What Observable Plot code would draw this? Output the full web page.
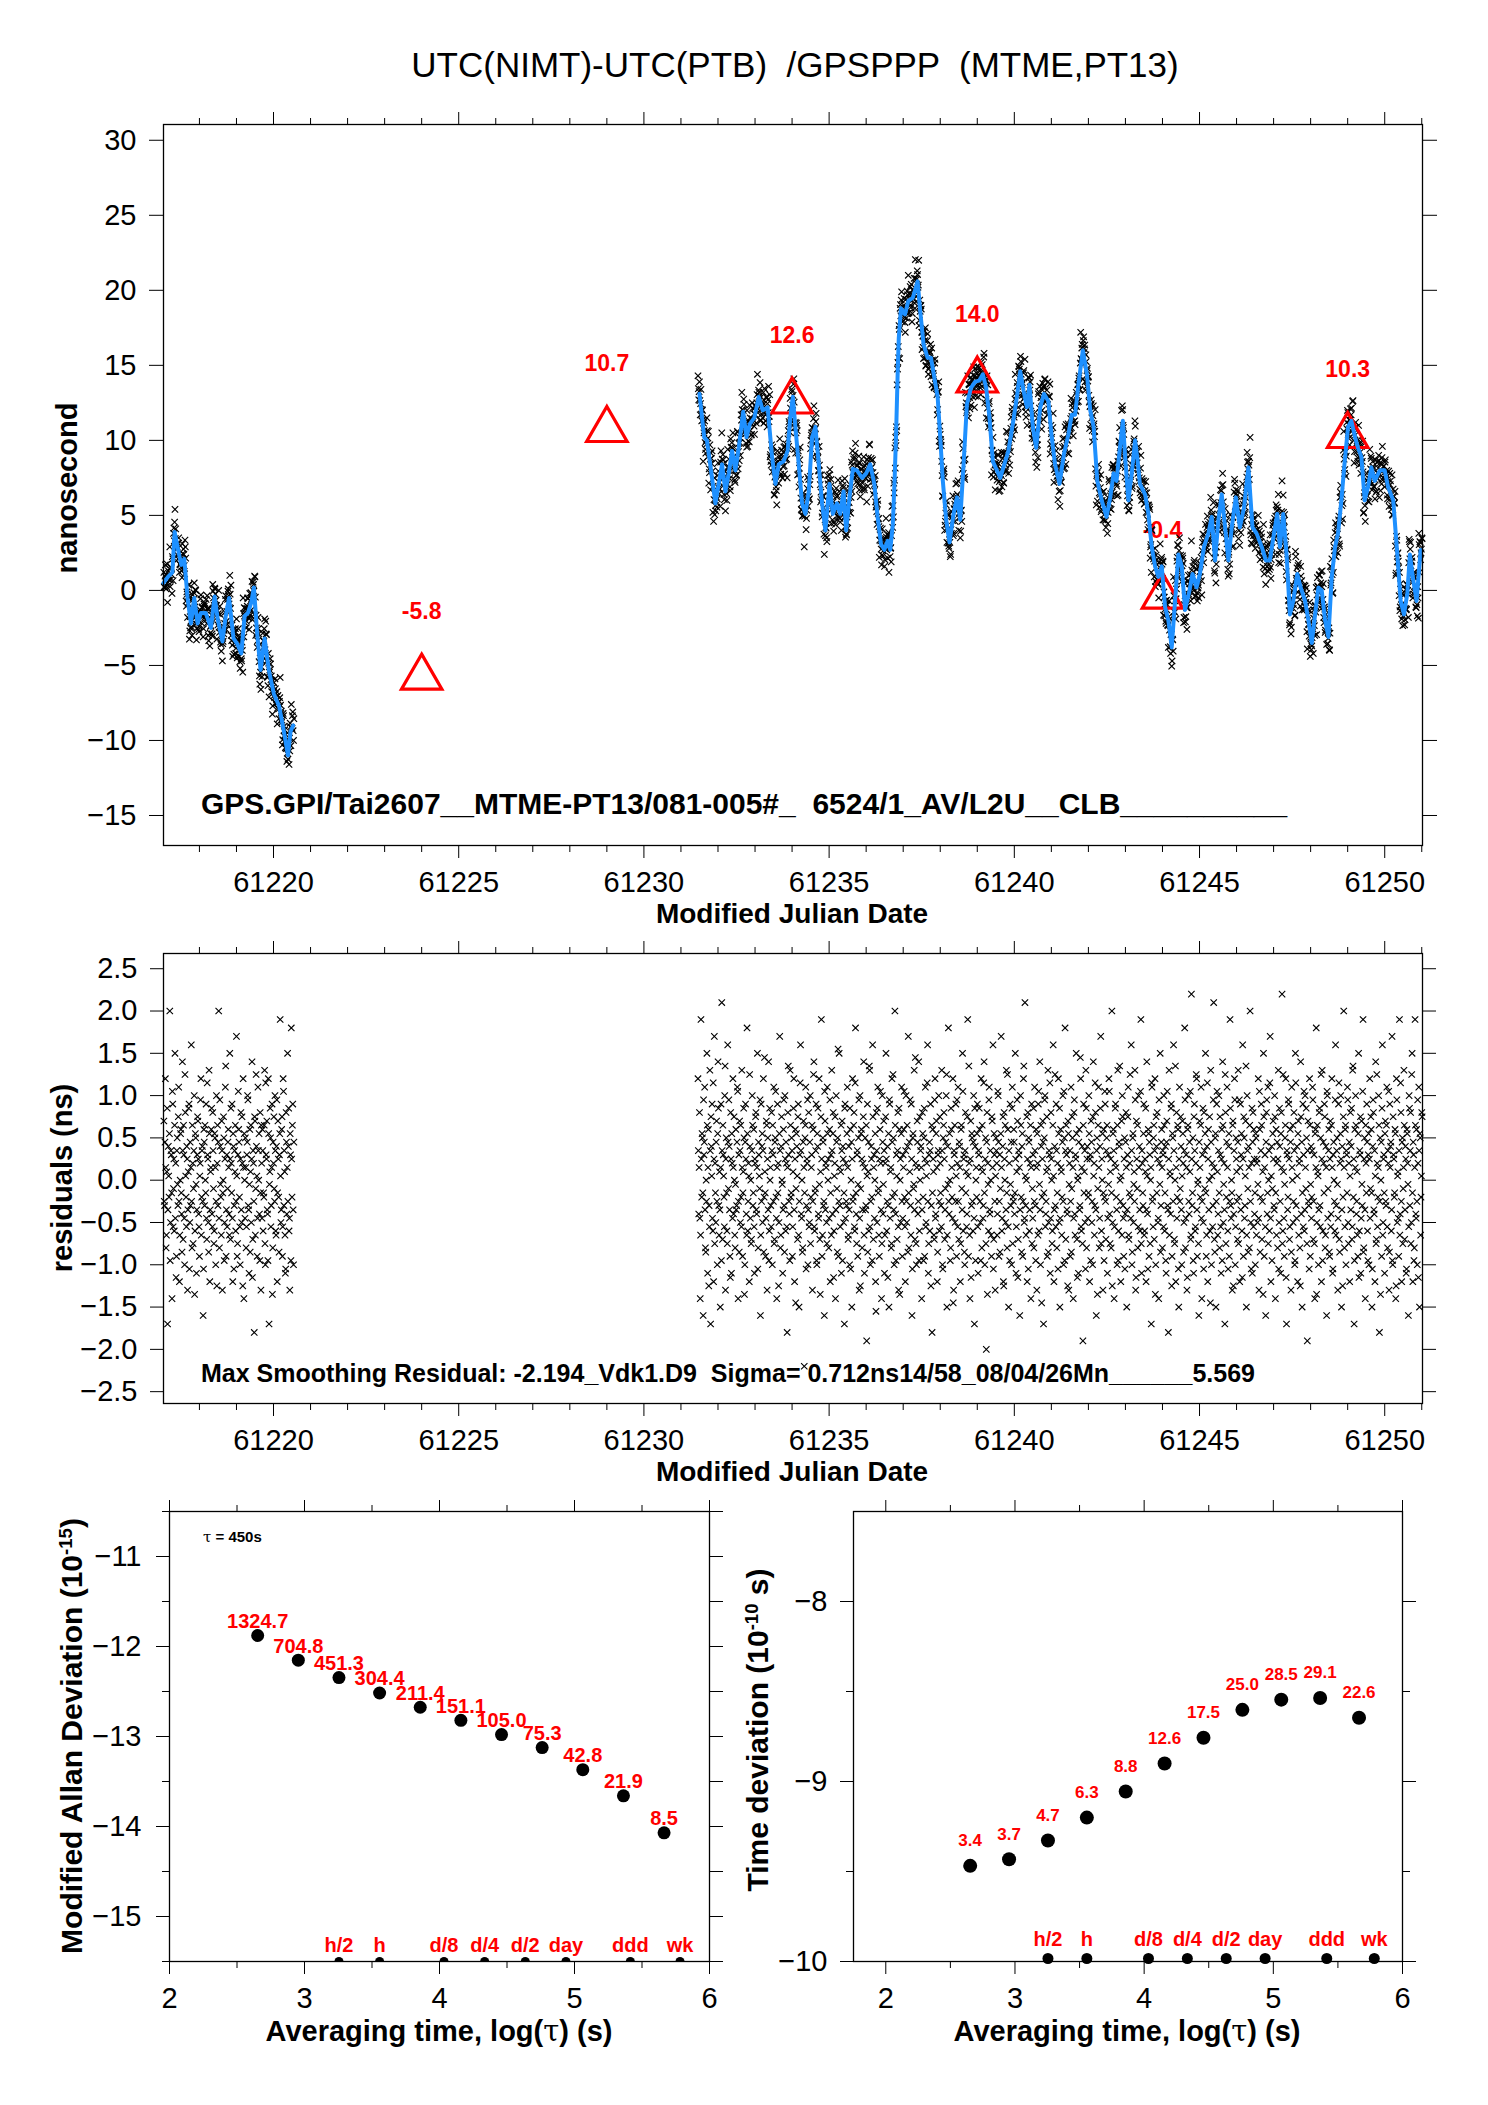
<!DOCTYPE html>
<html>
<head>
<meta charset="utf-8">
<script src="https://cdn.jsdelivr.net/npm/d3@7"></script>
<script src="https://cdn.jsdelivr.net/npm/@observablehq/plot@0.6"></script>
<style>
  body { margin: 0; background: #fff; }
  #page { position: relative; width: 1488px; height: 2105px; background: #fff; overflow: hidden;
          font-family: "Liberation Sans", Arial, Helvetica, sans-serif; color: #000; }
  #page svg { position: absolute; }
  .txt { position: absolute; white-space: pre; line-height: 1; z-index: 5; }
  .b { font-weight: bold; }
  sup { font-size: 62%; vertical-align: 0; position: relative; top: -0.55em; }
  .tau { font-family: "DejaVu Serif", "Liberation Serif", serif; font-weight: normal; }
</style>
</head>
<body>
<div id="page"></div>
<script>
// ---------------- DATA ----------------
const titleText = "UTC(NIMT)-UTC(PTB)  /GPSPPP  (MTME,PT13)";
const infoText1 = "GPS.GPI/Tai2607__MTME-PT13/081-005#_  6524/1_AV/L2U__CLB__________";
const infoText2 = "Max Smoothing Residual: -2.194_Vdk1.D9  Sigma= 0.712ns14/58_08/04/26Mn______5.569";

// smoothed curve (blue), MJD and ns
const smoothMjd = [
  61217.03,61217.15,61217.27,61217.33,61217.45,61217.51,61217.59,61217.68,61217.77,61217.86,61217.95,61218.04,
  61218.17,61218.31,61218.41,61218.50,61218.62,61218.71,61218.80,61218.92,61219.03,61219.13,61219.22,61219.31,
  61219.40,61219.47,61219.56,61219.65,61219.76,61219.88,61220.01,61220.15,61220.28,61220.39,61220.46,61220.53,
  61231.50,61231.57,61231.63,61231.70,61231.79,61231.93,61232.02,61232.11,61232.20,61232.29,61232.38,61232.47,
  61232.56,61232.68,61232.77,61232.86,61232.98,61233.10,61233.21,61233.34,61233.46,61233.55,61233.64,61233.77,
  61233.88,61233.95,61234.02,61234.10,61234.18,61234.27,61234.36,61234.45,61234.54,61234.63,61234.72,61234.81,
  61234.90,61235.01,61235.10,61235.21,61235.30,61235.39,61235.46,61235.55,61235.64,61235.75,61235.89,61236.00,
  61236.11,61236.22,61236.31,61236.40,61236.49,61236.58,61236.65,61236.72,61236.77,61236.81,61236.85,61236.88,
  61236.94,61237.05,61237.14,61237.26,61237.39,61237.46,61237.55,61237.66,61237.75,61237.84,61237.93,61238.00,
  61238.07,61238.16,61238.25,61238.36,61238.45,61238.54,61238.63,61238.72,61238.83,61238.94,61239.06,61239.15,
  61239.24,61239.33,61239.42,61239.53,61239.62,61239.73,61239.84,61239.96,61240.07,61240.16,61240.25,61240.34,
  61240.41,61240.50,61240.59,61240.70,61240.80,61240.92,61241.01,61241.10,61241.22,61241.34,61241.46,61241.55,
  61241.64,61241.73,61241.85,61241.96,61242.05,61242.14,61242.24,61242.36,61242.49,61242.59,61242.68,61242.76,
  61242.85,61242.93,61243.00,61243.08,61243.17,61243.26,61243.33,61243.39,61243.53,61243.62,61243.71,61243.80,
  61243.89,61243.98,61244.07,61244.16,61244.25,61244.34,61244.43,61244.52,61244.61,61244.73,61244.81,61244.92,
  61245.01,61245.12,61245.24,61245.33,61245.42,61245.51,61245.60,61245.69,61245.78,61245.87,61245.98,61246.09,
  61246.20,61246.32,61246.43,61246.54,61246.68,61246.79,61246.90,61247.01,61247.10,61247.17,61247.26,61247.35,
  61247.44,61247.53,61247.64,61247.73,61247.85,61247.94,61248.03,61248.12,61248.21,61248.30,61248.39,61248.48,
  61248.57,61248.66,61248.74,61248.83,61248.92,61249.01,61249.10,61249.20,61249.28,61249.37,61249.46,61249.55,
  61249.64,61249.73,61249.87,61250.00,61250.09,61250.23,61250.34,61250.43,61250.52,61250.61,61250.68,61250.77,
  61250.86,61250.97
];
const smoothNs = [
  0.5,0.9,1.2,3.9,2.4,1.7,2.1,-0.5,-2.2,-0.5,-2.2,-1.5,
  -1.5,-2.5,-0.4,-2.0,-3.4,-1.7,-0.5,-3.2,-3.6,-4.2,-1.7,-1.5,
  -0.8,0.2,-2.9,-5.3,-3.2,-5.4,-6.9,-7.7,-9.4,-11.0,-9.4,-9.0,
  13.1,11.5,10.2,10.0,8.4,5.8,7.1,8.4,6.6,7.8,9.3,8.0,
  9.5,11.9,10.2,11.1,11.5,12.9,12.0,12.2,8.9,7.1,8.4,8.6,
  9.3,11.5,12.9,10.6,8.4,5.8,5.1,6.6,10.2,10.9,8.4,5.8,
  4.0,7.1,5.1,5.8,5.1,6.6,4.0,6.2,8.1,8.0,7.5,7.8,
  8.4,7.1,4.9,3.1,2.7,3.3,2.7,4.4,7.5,10.6,14.4,16.8,
  18.8,18.4,19.3,19.5,20.6,18.6,16.4,15.5,15.5,14.2,12.9,10.2,
  7.3,4.7,3.2,5.1,6.2,4.7,8.4,12.4,13.5,13.9,14.0,14.4,
  13.5,11.5,8.6,8.0,7.5,8.4,9.3,11.1,12.9,14.6,13.3,12.2,
  13.7,10.9,9.5,12.2,13.1,12.6,10.2,8.4,7.1,9.1,10.4,11.7,
  11.7,13.7,16.0,14.4,12.0,10.9,7.3,6.0,4.9,6.2,7.8,7.3,
  9.5,11.3,8.6,6.0,7.8,10.0,8.6,7.1,6.4,5.1,2.9,1.6,
  0.9,1.6,-1.1,-2.0,-3.8,-0.7,2.4,1.6,-1.3,0.0,1.1,0.2,
  1.1,2.9,3.8,4.9,2.0,4.7,6.4,4.2,2.0,4.2,6.2,4.2,
  5.5,8.2,4.2,3.8,2.9,2.0,2.0,3.8,5.1,2.9,5.1,2.4,
  -1.6,-0.7,1.1,0.2,-0.7,-2.0,-3.5,-1.6,0.2,0.0,-2.0,-3.1,
  0.9,2.9,3.8,6.0,8.6,10.9,11.3,10.2,9.5,8.9,6.0,6.9,
  8.2,7.3,8.0,8.0,6.9,6.0,2.4,-0.7,-1.6,-0.2,2.4,0.7,
  -0.7,2.7
];

// Circular T values (red triangles)
const circTMjd = [61224, 61229, 61234, 61239, 61244, 61249];
const circTNs  = [-5.8, 10.7, 12.6, 14.0, -0.4, 10.3];

// smoothing residuals (ns): two interleaved sample sets, evenly spaced over each data span
const spanLeft   = [61217.04, 61220.54];
const spanRight  = [61231.46, 61251.00];
const spanLeft2  = [61217.05, 61220.55];
const spanRight2 = [61231.47, 61251.01];
const residLeft = [
  0.7,-0.3,1.2,-0.8,0.1,-1.7,0.4,-0.2,2.0,-0.5,0.3,-1.4,0.9,-0.1,-0.6,1.5,0.2,-0.9,0.5,-0.3,1.1,-1.2,
  0.0,0.6,-0.4,1.4,-0.7,0.3,-1.0,0.8,-0.2,0.4,-1.3,0.1,0.9,-0.5,-0.3,1.6,-0.8,0.2,-0.1,1.0,-0.6,0.5,
  -1.1,0.3,0.7,-0.4,-0.9,0.2,1.2,-0.2,0.4,-1.6,0.6,-0.3,0.0,0.9,-0.7,0.3,-0.5,1.3,-1.2,0.1,0.6,-0.4,
  0.8,-0.1,-0.6,0.5,-1.0,1.0,0.2,-0.3,2.0,-0.8,0.4,-0.2,0.7,-1.3,0.0,0.5,-0.5,1.1,-0.9,0.3,-0.1,0.6,
  -0.4,1.5,-0.7,0.2,0.9,-1.2,0.4,-0.3,0.1,-0.6,1.7,-0.9,0.3,0.6,-0.2,-1.0,0.8,-0.5,0.2,1.2,-1.4,0.0,
  0.5,-0.8,0.3,1.0,-0.3,-1.1,0.6,0.1,-0.5,1.4,-0.7,0.2,-1.8,0.7,-0.1,0.4,-0.9,1.1,0.0,-0.4,0.8,-1.3,
  0.2,0.6,-0.6,-0.2,1.3,-1.0,0.3,0.7,-0.4,1.2,-1.7,0.1,0.5,-0.3,0.9,-0.8,0.2,-0.1,1.0,-0.6,0.4,-1.2,
  0.7,-0.2,0.3,1.9,-0.5,0.6,-0.9,1.2,-0.3,0.1,-1.1,0.8,-0.4,1.5,0.4,-0.6,-1.3,0.3,1.8,-0.2,0.9,-1.0
];
const residLeft2 = [
  -0.25,0.45,0.15,-0.65,0.85,-0.35,0.05,0.55,-0.95,0.35,-0.15,1.05,-0.55,0.25,0.65,-0.45,-1.15,0.35,-0.05,0.75,-0.25,-0.65,
  0.55,-0.15,-0.85,0.35,0.65,-0.45,1.25,0.05,-0.55,0.25,-0.35,0.85,-1.05,0.45,0.15,-0.25,0.65,-0.75,0.35,-1.35,0.55,-0.05,
  -0.35,0.75,0.25,-0.55,0.05,0.95,-0.65,0.35,-0.25,-1.05,0.45,0.65,-0.15,-0.45,1.15,0.25,-0.85,0.55,-0.35,0.15,0.85,-0.55,
  0.35,-0.75,0.55,0.15,-0.25,-1.25,0.65,0.45,-0.45,0.95,-0.05,-0.65,0.35,-0.15,0.75,-0.95,0.25,1.35,-0.35,-0.55,0.45,0.15,
  -0.65,0.25,0.85,-0.15,-0.45,0.55,-1.05,0.35,0.65,-0.25,0.05,-0.75,1.05,0.45,-0.55,0.25,-0.35,0.75,-1.25,0.15,0.55,-0.45,
  0.15,-0.55,0.45,0.95,-0.35,-0.05,-0.85,0.65,0.25,-1.15,0.35,-0.25,0.75,-0.65,1.25,0.05,-0.45,0.35,0.55,-0.95,-0.15,0.65,
  -0.45,0.35,-0.15,0.65,-0.75,1.15,0.25,-0.35,-0.95,0.55,-0.05,0.85,-0.55,0.15,-1.35,0.45,0.75,-0.25,0.35,-0.65,0.95,-0.15,
  0.25,-0.85,0.55,0.05,-0.35,0.75,-0.55,1.05,0.35,-0.65,-1.05,0.45,0.15,-0.25,0.85,-0.45,0.55,-0.95,0.25,0.65,-0.35,0.45
];
const residRight = [
  1.2,-0.4,0.8,-1.4,1.9,-0.2,0.5,-1.6,0.3,1.1,-0.8,0.0,1.5,-1.1,0.6,-0.3,1.3,-1.7,0.4,0.9,-0.6,-1.2,1.7,0.2,-0.5,
  0.7,-1.0,1.4,-0.3,0.1,-1.5,0.9,2.1,-0.7,0.3,-0.2,1.0,-1.3,0.5,-0.6,1.6,-0.1,0.4,-0.9,0.8,-1.1,0.2,1.2,-0.4,0.0,
  -0.8,0.6,-0.3,1.1,-1.4,0.3,0.7,-0.5,-0.2,1.3,-0.9,0.1,0.5,-1.0,0.9,-0.4,1.8,-0.6,0.2,-1.2,0.4,0.0,-0.7,1.0,-0.3,
  0.6,-1.1,0.2,0.8,-0.4,1.5,-0.8,0.3,-0.1,-1.6,0.9,0.4,-0.5,1.2,-0.2,0.1,-0.9,0.7,-1.3,0.5,1.4,-0.6,0.0,-0.3,0.8,
  -1.0,0.3,1.1,-0.7,0.5,-0.2,-1.4,0.9,0.2,-0.5,1.7,-0.8,0.4,0.0,-1.1,0.6,-0.3,1.0,-0.6,0.2,-1.8,0.8,0.3,-0.4,1.3,
  -0.2,0.5,-0.9,0.1,1.2,-1.2,0.6,-0.1,0.4,-0.7,0.9,-1.5,0.3,1.6,-0.4,0.0,-0.8,0.7,-2.2,0.5,1.1,-0.3,0.2,-1.0,0.8,
  -0.5,1.0,-0.2,0.3,-1.3,0.6,1.4,-0.6,-0.1,0.9,-1.0,0.4,-0.4,1.2,-0.7,0.1,1.9,-0.9,0.5,-0.3,-1.6,0.7,0.2,-0.5,1.1,
  0.0,-0.8,0.6,-1.2,0.3,1.3,-0.4,0.8,-0.6,0.2,-1.4,1.0,-0.1,0.5,-0.9,1.5,-0.3,0.1,-1.1,0.7,0.4,-0.5,-1.7,0.9,0.2,
  -0.3,1.1,-0.7,0.4,-1.0,0.6,0.0,-1.5,1.2,-0.2,0.8,-0.6,1.8,-0.4,0.3,-0.9,0.5,-1.3,1.0,-0.1,0.6,-0.8,0.2,1.4,-1.1,
  0.5,-0.3,-1.9,0.9,0.1,-0.6,1.3,-1.0,0.4,-0.2,1.6,-0.7,0.3,0.0,-1.2,0.8,-0.5,1.1,-0.1,-0.9,0.6,0.2,-1.4,1.0,-0.4,
  0.7,-1.1,0.2,1.5,-0.6,0.4,-0.3,-1.5,0.9,0.1,-0.8,1.2,-0.2,0.5,-1.0,2.0,-0.4,0.3,-0.7,0.8,-1.3,0.6,0.0,-0.5,1.1,
  -0.9,0.3,0.6,-0.2,-1.2,1.0,-0.5,0.4,1.7,-0.8,0.1,-0.3,0.9,-1.6,0.5,-0.1,1.3,-0.7,0.2,-1.0,0.7,-0.4,1.4,-0.6,0.0,
  0.4,-1.4,0.8,-0.2,0.5,-0.9,1.1,-0.5,0.2,1.6,-1.1,0.3,-0.6,0.9,-0.3,-1.8,0.6,0.1,-0.7,1.2,-0.4,0.7,-1.2,0.3,1.0,
  -0.6,0.2,-0.3,1.3,-1.0,0.5,0.8,-0.7,-0.1,1.0,-1.5,0.4,1.8,-0.4,0.0,-0.8,0.6,-0.2,1.2,-1.3,0.3,-0.5,0.9,-0.9,0.2,
  1.1,-0.7,0.4,-1.2,0.6,-0.1,1.5,-0.6,0.3,-1.0,0.8,0.1,-0.4,1.9,-0.9,0.2,-1.4,0.7,-0.3,0.5,-0.6,1.0,-1.7,0.4,0.0,
  -0.2,0.9,-1.1,0.3,0.6,-0.5,1.2,-0.8,0.1,-0.3,1.4,-1.0,0.5,-2.0,0.8,0.2,-0.6,1.1,-0.4,0.0,-0.9,0.7,1.6,-0.7,0.3,
  -1.3,0.5,0.2,-0.4,1.0,-0.9,0.3,-0.1,1.7,-0.6,0.4,-1.2,0.8,0.0,-0.5,1.3,-0.8,0.6,-1.5,0.2,0.9,-0.3,-1.0,1.1,-0.2,
  0.6,-0.4,1.5,-1.1,0.1,0.7,-0.7,0.3,-1.6,1.0,-0.2,0.4,-0.9,1.2,-0.5,2.1,-0.3,0.0,-1.2,0.8,0.5,-0.6,0.2,-1.4,0.9,
  -0.1,0.3,-0.8,1.1,-0.3,0.6,-1.3,0.2,0.9,-0.6,1.4,-1.0,0.4,-0.2,0.7,-1.7,0.5,1.0,-0.4,0.1,-0.9,1.3,-0.5,0.3,-1.1,
  0.8,0.0,-0.6,1.6,-1.2,0.4,-0.3,0.9,-0.8,0.2,1.2,-0.5,-1.5,0.6,0.1,-0.2,1.0,-1.0,0.5,1.8,-0.7,0.3,-0.4,0.7,-1.3,
  0.2,-0.9,1.1,-0.1,0.5,-1.4,0.8,-0.4,0.3,1.5,-0.7,0.0,-1.1,0.6,-0.3,1.2,-0.6,0.4,-1.9,0.9,0.1,-0.5,1.3,-0.8,0.4,
  -0.2,1.0,-1.2,0.3,0.7,-0.5,-1.0,1.4,0.2,-0.3,0.8,-1.6,0.5,-0.1,1.1,-0.8,0.4,1.7,-0.6,0.0,-1.3,0.6,-0.2,0.9,-0.7,
  0.5,-1.1,0.3,1.2,-0.4,0.1,-0.8,2.0,-0.5,0.6,-1.4,0.2,0.9,-0.2,-1.0,1.3,-0.6,0.4,0.0,-1.2,0.7,1.0,-0.3,-0.9,0.5,
  -0.4,0.8,-1.5,0.3,1.1,-0.7,0.2,-0.2,1.6,-1.0,0.5,-0.5,0.1,1.3,-1.3,0.7,-0.1,-0.8,1.0,0.4,-0.6,1.9,-1.1,0.2,-0.3,
  0.9,-0.6,0.1,-1.2,1.4,-0.4,0.6,-0.9,0.3,0.0,-1.7,1.1,-0.2,0.5,-0.7,1.2,-1.0,0.4,0.8,-0.5,-1.4,0.2,1.5,-0.3,0.6,
  -0.8,0.3,1.0,-0.6,0.4,-1.1,0.7,-0.3,-1.8,1.3,0.1,-0.4,0.9,-0.9,0.5,1.6,-0.7,0.0,-1.2,0.8,-0.2,0.6,-1.5,1.1,-0.1,
  0.4,-1.0,0.7,0.2,-0.5,1.8,-0.8,0.3,-1.3,0.6,1.0,-0.4,0.1,-0.7,2.2,-0.3,0.5,-1.1,0.9,-0.6,0.2,1.2,-0.9,0.0,-1.6,
  0.7,-0.2,1.1,-1.4,0.3,-0.5,0.8,-0.1,1.5,-0.9,0.4,-1.2,0.6,0.0,-0.6,1.3,-1.0,0.2,-0.3,2.1,-0.7,0.5,-1.5,0.9,0.1,
  -0.4,1.0,-0.8,0.3,-1.1,0.6,1.4,-0.5,0.2,-1.7,0.8,-0.2,1.1,-0.6,0.4,-0.9,1.9,-0.3,0.0,-1.3,0.7,-0.4,1.2,-1.0,0.5,
  0.1,-0.7,1.3,-0.2,-1.2,0.9,0.3,-0.6,1.6,-0.9,0.5,-0.3,0.7,-1.5,1.0,-0.1,0.4,-0.8,2.0,-0.5,0.2,-1.1,0.8,0.6,-0.4,
  -1.0,0.5,0.2,-0.5,1.2,-1.3,0.6,-0.2,0.9,-0.7,0.1,1.5,-0.9,0.3,-1.6,0.8,-0.4,1.1,0.0,-0.6,1.7,-1.2,0.4,-0.1,0.7,
  -0.3,1.0,-1.4,0.6,0.2,-0.8,1.3,-0.5,0.4,-1.1,0.8,2.2,-0.6,0.1,-0.9,0.5,1.2,-1.7,0.3,-0.2,0.9,-0.7,0.6,-1.3,1.1,
  0.0,-0.5,0.8,-1.0,1.5,-0.3,0.4,-1.2,0.7,0.2,-0.8,1.4,-0.4,-1.5,0.9,0.3,-0.6,1.0,-0.1,0.5,-1.9,0.7,-0.3,1.2,-0.9,
  0.4,-0.2,1.1,-0.7,0.3,-1.4,0.6,1.8,-0.5,0.1,-1.0,0.8,-0.3,0.5,-1.2,1.3,-0.6,0.2,0.9,-0.8,0.4,-1.6,1.0,-0.1,0.6,
  -0.9,0.7,-0.4,1.2,-1.1,0.3,0.0,-0.6,1.6,-0.3,0.5,-1.3,0.9,-0.7,0.2,1.0,-1.5,0.4,-0.2,2.0,-0.8,0.6,-1.0,0.3,1.1,
  -0.5,0.2,-1.2,0.8,0.4,-0.7,1.3,-0.2,-1.7,0.6,1.0,-0.4,0.1,-0.9,1.5,-0.6,0.3,-1.1,0.7,-0.3,1.9,-0.8,0.5,-1.4,0.2,
  0.9,-0.6,0.3,-1.0,1.2,-0.1,0.6,-1.5,0.4,0.8,-0.4,-1.2,1.4,-0.7,0.2,-0.2,1.0,-1.8,0.5,0.0,-0.9,1.6,-0.5,0.3,-1.1,
  0.7,-0.3,1.1,-0.8,0.2,-1.3,0.9,0.4,-0.6,1.7,-1.0,0.3,-0.2,0.6,-1.4,1.2,-0.5,0.1,-0.9,1.9,-0.4,0.8,-1.2,0.5,-0.1,
  1.3,-0.7,0.4,-1.1,0.6,0.2,-1.6,1.0,-0.3,0.8,-0.5,1.5,-1.2,0.3,-0.8,1.9,-0.4,0.6,-1.0,0.2,1.1,-1.5,0.5,-0.2,0.8
];
const residRight2 = [
  0.35,0.15,-0.45,-0.65,0.25,0.55,-0.15,0.95,0.45,-0.35,-0.85,-0.25,0.65,0.15,-1.25,-0.55,0.35,0.75,0.05,-0.45,1.15,0.25,-0.75,-0.15,0.45,
  -0.25,0.55,0.85,-0.65,-0.35,0.15,-0.95,0.35,0.65,0.05,-0.55,1.35,0.25,-0.15,-0.75,0.45,0.95,-0.35,-1.15,0.25,0.55,-0.45,0.15,0.75,-0.65,
  -0.05,-0.35,0.45,1.05,-0.25,-0.85,0.35,0.65,-0.55,0.15,-0.15,0.85,-1.35,0.45,0.25,-0.65,0.55,-0.25,0.05,1.25,-0.45,-0.75,0.35,0.65,-0.15,
  -0.55,0.25,0.75,-0.35,0.15,-1.05,0.45,0.05,0.95,-0.65,-0.25,0.55,0.35,-0.85,1.45,-0.15,-0.45,0.65,0.25,-0.35,-0.95,0.85,0.15,-0.55,0.35,
  0.65,-0.25,-0.75,0.45,1.05,-0.45,0.15,-0.15,-1.25,0.55,0.35,-0.65,0.75,-0.05,-0.35,0.95,-0.85,0.25,0.45,-0.55,0.15,1.35,-0.25,-0.95,0.65,
  -0.15,0.35,-0.55,0.85,-0.35,0.25,-1.45,0.55,0.05,0.75,-0.65,-0.25,1.15,0.35,-0.45,-0.85,0.45,0.15,-0.15,0.65,-1.05,0.25,0.95,-0.35,-0.55,
  0.45,-0.75,0.15,0.65,-0.25,1.25,-0.55,-0.15,0.35,-0.95,0.55,0.85,-0.45,-0.05,-1.35,0.75,0.25,-0.65,0.45,-0.25,1.05,-0.35,0.15,-0.75,0.55,
  0.25,-0.45,0.95,-0.15,-0.65,0.35,0.55,-1.15,0.05,0.75,-0.35,0.45,-0.85,1.55,-0.25,0.15,-0.55,0.65,0.35,-0.95,0.25,-0.15,0.85,-0.45,-0.25,
  0.55,0.15,-0.65,-0.35,0.85,-1.05,0.45,0.25,-0.25,0.65,-0.55,1.15,-0.15,-0.75,0.35,-0.05,0.95,-0.45,-1.25,0.55,0.25,-0.35,0.75,-0.65,0.15,
  -0.35,0.65,0.05,-0.85,0.45,1.35,-0.55,-0.25,0.25,-0.95,0.75,0.15,-0.45,0.55,-1.55,0.35,0.85,-0.15,-0.65,0.25,1.05,-0.35,-0.75,0.45,-0.05,
  0.35,-0.65,0.75,0.25,-0.25,-1.15,0.55,0.95,-0.45,0.15,-0.75,0.45,1.25,-0.35,-0.15,0.65,-0.95,0.05,0.35,-0.55,0.85,-1.35,0.25,0.55,-0.25,
  -0.45,0.15,1.05,-0.55,0.35,-0.25,0.65,-0.85,-0.15,0.45,0.95,-0.65,0.25,-1.05,0.55,-0.05,-0.35,1.45,-0.75,0.15,0.45,-0.25,-0.95,0.75,0.35,
  0.15,-0.35,0.55,-0.95,0.85,0.25,-0.55,0.05,1.15,-0.25,-0.75,0.45,0.35,-1.25,0.65,-0.15,0.25,-0.65,0.95,-0.45,0.55,0.15,-0.85,0.35,-0.25,
  0.75,-0.15,-0.55,0.35,-1.05,0.65,0.25,-0.35,0.45,1.25,-0.65,-0.05,-0.25,0.55,-0.95,0.85,0.15,-0.45,-1.45,0.35,0.65,-0.25,0.05,0.95,-0.55,
  -0.25,0.45,0.15,-0.75,0.65,-0.35,1.05,0.25,-0.85,0.35,-0.15,-0.55,0.75,0.05,1.35,-0.65,0.25,-1.15,0.55,-0.25,0.45,-0.45,0.85,-0.95,0.15,
  0.55,-0.55,0.35,0.85,-0.25,-0.95,0.15,0.65,-0.45,1.15,-0.15,0.25,-0.75,0.45,-1.35,-0.05,0.95,-0.35,0.35,-0.65,0.75,0.15,-1.05,0.55,-0.25,
  0.05,0.35,-0.65,1.05,0.45,-0.25,-0.85,0.55,0.15,-0.45,0.75,-1.25,0.25,0.65,-0.35,-0.15,1.25,-0.55,0.35,-0.95,-0.05,0.45,0.85,-0.75,-0.25,
  0.45,-0.15,0.25,-0.55,0.95,-1.15,0.35,0.15,-0.35,0.65,-0.85,0.55,-0.25,1.35,-0.45,0.05,-0.65,0.75,0.25,-1.05,0.45,-0.35,0.65,0.15,-0.75,
  -0.45,0.85,-0.25,0.35,-0.95,0.15,0.55,-0.65,1.05,-0.05,-0.35,0.65,-1.45,0.25,0.45,-0.15,0.95,-0.55,-0.25,0.75,0.15,-0.85,0.35,1.15,-0.45,
  0.25,-0.75,0.65,0.05,-0.35,1.25,-0.55,0.35,-0.15,-1.05,0.55,0.85,-0.45,0.15,-0.65,0.45,-0.25,1.05,-0.95,0.35,0.65,-0.35,-1.25,0.55,-0.05,
  0.35,-0.25,-0.85,0.75,0.15,-0.45,0.95,-0.65,0.25,0.55,-1.15,0.05,0.45,-0.35,1.45,-0.55,0.15,-0.75,0.65,-0.15,0.35,-1.05,0.85,0.25,-0.45,
  -0.15,0.55,0.25,-0.95,0.45,-0.25,0.75,0.05,-0.65,1.15,-0.35,0.35,-1.35,0.65,0.15,-0.45,0.85,-0.75,0.25,0.55,-0.15,-0.95,1.05,-0.25,0.35,
  0.65,-0.45,-0.05,1.05,-0.75,0.25,-0.15,-1.25,0.55,0.35,-0.55,0.85,0.15,-0.35,0.65,-0.95,0.45,1.35,-0.25,0.05,-0.65,0.75,-0.45,0.25,-1.05,
  0.45,0.15,-0.35,0.75,-0.65,-0.15,1.25,-0.45,0.35,-0.85,0.55,-0.05,-0.25,0.95,-1.15,0.25,0.65,-0.55,0.15,-0.35,1.05,-0.75,0.35,-0.15,0.55,
  -0.65,0.25,0.85,-0.35,0.05,-1.05,0.55,0.45,-0.75,0.15,1.15,-0.25,-0.55,0.65,0.35,-1.35,0.75,-0.15,0.25,-0.45,0.95,-0.05,-0.85,0.45,0.15,
  0.35,-0.55,0.65,-0.15,-0.95,0.45,1.05,-0.35,0.25,-0.65,0.05,0.85,-1.25,0.55,-0.25,0.35,-0.75,1.35,0.15,-0.45,0.65,-1.05,0.25,-0.25,0.75,
  -0.35,0.05,0.55,-0.85,0.35,0.95,-0.45,0.15,-1.15,0.65,-0.25,0.45,1.05,-0.65,0.25,-0.15,-0.95,0.75,0.35,-0.55,1.25,-0.35,-0.05,-0.75,0.45,
  0.15,0.65,-0.45,-0.25,0.85,-1.05,0.35,0.55,-0.15,-0.65,1.15,0.25,-0.35,0.75,-1.45,0.45,0.05,-0.55,0.95,0.15,-0.85,0.55,-0.25,1.05,-0.65,
  0.35,-0.15,0.75,-0.55,0.25,-0.95,0.65,-0.05,-0.35,1.25,-0.75,0.45,0.15,-1.05,0.55,-0.25,0.85,-0.45,-0.15,0.65,-1.25,0.35,0.95,-0.55,0.25,
  -0.25,0.45,-0.75,0.95,0.15,-0.35,0.55,-1.15,0.25,0.75,-0.45,0.05,1.35,-0.65,0.35,-0.85,0.15,0.65,-0.25,-1.05,0.85,0.45,-0.55,0.25,-0.15,
  0.55,-0.65,0.25,-0.05,-0.45,1.05,-0.85,0.35,0.65,-0.25,-1.35,0.75,0.15,-0.55,0.45,0.95,-0.15,-0.75,0.35,1.15,-0.45,0.05,-0.95,0.55,0.25,
  -0.35,0.75,-0.15,-0.65,0.45,0.25,-1.05,0.85,-0.25,0.55,0.15,-0.75,1.25,-0.45,-0.05,0.65,-1.15,0.35,-0.35,0.95,0.25,-0.55,0.45,-0.85,0.15,
  0.65,-0.25,0.35,-0.95,1.15,-0.45,0.05,0.55,-0.65,0.25,-1.25,0.75,0.45,-0.15,-0.55,1.05,-0.35,0.15,0.85,-0.75,0.35,-0.25,-1.05,0.65,-0.05,
  -0.45,0.35,0.95,-0.25,-0.75,0.55,0.15,-1.35,0.65,0.05,-0.35,0.85,-0.55,1.25,0.25,-0.95,0.45,-0.15,0.75,-0.65,0.15,1.05,-0.45,0.35,-0.85,
  0.25,-0.55,0.65,0.15,-1.05,0.45,-0.25,0.95,-0.65,0.35,-0.05,-0.45,1.15,-0.85,0.55,0.25,-0.35,-1.25,0.75,0.15,-0.55,0.65,0.35,-0.15,0.95,
  -0.75,0.45,0.05,-0.35,0.85,-0.55,1.35,0.25,-0.95,0.15,0.65,-0.25,-0.65,0.55,-1.15,0.35,0.75,-0.45,-0.05,1.05,-0.85,0.25,-0.35,0.65,-0.15,
  0.45,-0.95,0.55,0.25,-0.45,0.75,-0.15,-1.05,0.95,-0.35,0.35,0.05,-0.75,1.25,-0.55,0.15,0.65,-0.25,-1.35,0.45,0.85,-0.65,0.25,-0.15,0.55,
  -0.25,0.65,-0.55,0.35,1.05,-0.85,0.15,0.45,-0.35,-0.95,0.75,0.25,-0.15,0.55,-1.25,0.95,0.05,-0.45,0.35,-0.65,1.15,-0.25,0.45,-0.75,0.15,
  0.65,-0.35,0.25,-1.05,0.55,-0.05,-0.55,0.85,0.35,-0.75,1.25,-0.15,0.45,-0.95,0.15,0.65,-0.45,-0.25,0.95,-1.15,0.35,0.55,-0.65,0.05,0.75
];

// stability analysis
const tauSec   = [450, 900, 1800, 3600, 7200, 14400, 28800, 57600, 115200, 230400, 460800];
const mdevE15  = [1324.7, 704.8, 451.3, 304.4, 211.4, 151.1, 105.0, 75.3, 42.8, 21.9, 8.5];
const tdevE10  = [3.4, 3.7, 4.7, 6.3, 8.8, 12.6, 17.5, 25.0, 28.5, 29.1, 22.6];
const markNames = ["h/2", "h", "d/8", "d/4", "d/2", "day", "ddd", "wk"];
const markSec   = [1800, 3600, 10800, 21600, 43200, 86400, 259200, 604800];

// ---------------- BUILD ----------------
const page = document.getElementById("page");
const FONT = '"Liberation Sans", Arial, Helvetica, sans-serif';
const minus = d => (d < 0 ? "\u2212" + (-d) : String(d));
const minus1 = d => (d < 0 ? "\u2212" + (-d).toFixed(1) : d.toFixed(1));
const blank = () => "";
const baseStyle = {fontFamily: FONT, fontSize: "29px", color: "black", background: "transparent", overflow: "visible"};

function addSvg(svg, left, top) {
  svg.style.left = left + "px";
  svg.style.top = top + "px";
  page.appendChild(svg);
}
function addText(html, x, y, {size = 28, bold = true, rotate = false, align = "center", color = "#000"} = {}) {
  const d = document.createElement("div");
  d.className = "txt" + (bold ? " b" : "");
  d.innerHTML = html;
  d.style.left = x + "px";
  d.style.top = y + "px";
  d.style.fontSize = size + "px";
  d.style.color = color;
  const tx = align === "center" ? "-50%" : "0";
  d.style.transform = rotate ? "translate(-50%,-50%) rotate(-90deg)" : `translate(${tx},-50%)`;
  page.appendChild(d);
  return d;
}

const smooth = smoothMjd.map((t, i) => ({t, v: smoothNs[i], seg: t < 61225 ? 0 : 1}));
const circT = circTMjd.map((t, i) => ({t, v: circTNs[i]}));
const spread = (vals, [a, b]) => vals.map((r, i) => ({t: a + i * (b - a) / (vals.length - 1), r}));
const resid = [].concat(
  spread(residLeft, spanLeft), spread(residLeft2, spanLeft2),
  spread(residRight, spanRight), spread(residRight2, spanRight2)
);
// raw measurements = smoothed value (nearest sample) + residual
const raw = resid.map(d => ({t: d.t, v: smoothNs[d3.bisectCenter(smoothMjd, d.t)] + d.r}));

const majorX = [61220, 61225, 61230, 61235, 61240, 61245, 61250];
const dayX = d3.range(61218, 61252).filter(d => d % 5 !== 0);

// ---- Panel 1 ----
const p1 = Plot.plot({
  width: 1488, height: 940,
  marginLeft: 163, marginRight: 66, marginTop: 124, marginBottom: 95,
  x: {domain: [61217.03, 61251.02], axis: null},
  y: {domain: [-17.0, 31.05], axis: null},
  style: baseStyle,
  marks: [
    Plot.text(circT, {x: "t", y: "v", text: d => d.v.toFixed(1), dy: -66, fill: "#ff0000", fontWeight: "bold", fontSize: 23}),
    Plot.dot(raw, {x: "t", y: "v", symbol: "times", r: 3, stroke: "#000", strokeWidth: 1.15}),
    Plot.dot(circT, {x: "t", y: "v", symbol: "triangle", r: 15, stroke: "#ff0000", strokeWidth: 3.2, fill: "none"}),
    Plot.line(smooth, {x: "t", y: "v", z: "seg", stroke: "#1e90ff", strokeWidth: 4}),
    Plot.frame({stroke: "#000", strokeWidth: 1.3}),
    Plot.axisX({anchor: "bottom", ticks: majorX, tickSize: 13, tickPadding: 13, tickFormat: d => String(d), label: null}),
    Plot.axisX({anchor: "bottom", ticks: dayX, tickSize: 7, tickFormat: blank, label: null}),
    Plot.axisX({anchor: "top", ticks: majorX, tickSize: 13, tickFormat: blank, label: null}),
    Plot.axisX({anchor: "top", ticks: dayX, tickSize: 7, tickFormat: blank, label: null}),
    Plot.axisY({anchor: "left", ticks: d3.range(-15, 31, 5), tickSize: 14, tickPadding: 13, tickFormat: minus, label: null}),
    Plot.axisY({anchor: "right", ticks: d3.range(-15, 31, 5), tickSize: 14, tickFormat: blank, label: null})
  ]
});
addSvg(p1, 0, 0);

// ---- Panel 2 ----
const resTicks = d3.range(-5, 6).map(i => i / 2);
const p2 = Plot.plot({
  width: 1488, height: 580,
  marginLeft: 163, marginRight: 66, marginTop: 23, marginBottom: 107,
  x: {domain: [61217.03, 61251.02], axis: null},
  y: {domain: [-2.64, 2.68], axis: null},
  style: baseStyle,
  marks: [
    Plot.dot(resid, {x: "t", y: "r", symbol: "times", r: 3, stroke: "#000", strokeWidth: 1.1}),
    Plot.frame({stroke: "#000", strokeWidth: 1.3}),
    Plot.axisX({anchor: "bottom", ticks: majorX, tickSize: 13, tickPadding: 13, tickFormat: d => String(d), label: null}),
    Plot.axisX({anchor: "bottom", ticks: dayX, tickSize: 7, tickFormat: blank, label: null}),
    Plot.axisX({anchor: "top", ticks: majorX, tickSize: 13, tickFormat: blank, label: null}),
    Plot.axisX({anchor: "top", ticks: dayX, tickSize: 7, tickFormat: blank, label: null}),
    Plot.axisY({anchor: "left", ticks: resTicks, tickSize: 13, tickPadding: 13, tickFormat: minus1, label: null}),
    Plot.axisY({anchor: "right", ticks: resTicks, tickSize: 13, tickFormat: blank, label: null})
  ]
});
addSvg(p2, 0, 930);

// ---- Panel 3: MDEV ----
const mdev = tauSec.map((s, i) => ({x: Math.log10(s), y: Math.log10(mdevE15[i] * 1e-15), lab: mdevE15[i].toFixed(1)}));
const tdev = tauSec.map((s, i) => ({x: Math.log10(s), y: Math.log10(tdevE10[i] * 1e-10), lab: tdevE10[i].toFixed(1)}));
const marks3 = markSec.map((s, i) => ({x: Math.log10(s), name: markNames[i]}));
const xMaj = [2, 3, 4, 5, 6], xMin = [2.5, 3.5, 4.5, 5.5];

const p3 = Plot.plot({
  width: 744, height: 615,
  marginLeft: 169, marginRight: 35, marginTop: 21, marginBottom: 144,
  x: {domain: [2, 6], axis: null},
  y: {domain: [-15.5, -10.5], axis: null},
  style: baseStyle,
  marks: [
    Plot.dot(marks3, {x: "x", y: () => -15.5, r: 4.5, fill: "#000", clip: true}),
    Plot.text(marks3, {x: "x", y: () => -15.5, text: "name", dy: -16, fill: "#ff0000", fontWeight: "bold", fontSize: 20}),
    Plot.dot(mdev, {x: "x", y: "y", r: 6.5, fill: "#000"}),
    Plot.text(mdev, {x: "x", y: "y", text: "lab", dy: -14, fill: "#ff0000", fontWeight: "bold", fontSize: 20}),
    Plot.frame({stroke: "#000", strokeWidth: 1.3}),
    Plot.axisX({anchor: "bottom", ticks: xMaj, tickSize: 13, tickPadding: 13, tickFormat: d => String(d), label: null}),
    Plot.axisX({anchor: "bottom", ticks: xMin, tickSize: 7, tickFormat: blank, label: null}),
    Plot.axisX({anchor: "top", ticks: xMaj, tickSize: 12, tickFormat: blank, label: null}),
    Plot.axisX({anchor: "top", ticks: xMin, tickSize: 7, tickFormat: blank, label: null}),
    Plot.axisY({anchor: "left", ticks: [-15, -14, -13, -12, -11], tickSize: 13, tickPadding: 15, tickFormat: minus, label: null}),
    Plot.axisY({anchor: "left", ticks: [-15.5, -14.5, -13.5, -12.5, -11.5, -10.5], tickSize: 7, tickFormat: blank, label: null}),
    Plot.axisY({anchor: "right", ticks: d3.range(-31, -20).map(i => i / 2), tickSize: 13, tickFormat: blank, label: null})
  ]
});
addSvg(p3, 0, 1490);

// ---- Panel 4: TDEV ----
const p4 = Plot.plot({
  width: 744, height: 615,
  marginLeft: 109, marginRight: 86, marginTop: 21, marginBottom: 144,
  x: {domain: [1.75, 6.0], axis: null},
  y: {domain: [-10, -7.5], axis: null},
  style: baseStyle,
  marks: [
    Plot.dot(marks3, {x: "x", y: () => -10, dy: -3, r: 5.5, fill: "#000"}),
    Plot.text(marks3, {x: "x", y: () => -10, text: "name", dy: -22, fill: "#ff0000", fontWeight: "bold", fontSize: 20}),
    Plot.dot(tdev, {x: "x", y: "y", r: 7, fill: "#000"}),
    Plot.text(tdev, {x: "x", y: "y", text: "lab", dy: -25, fill: "#ff0000", fontWeight: "bold", fontSize: 17}),
    Plot.frame({stroke: "#000", strokeWidth: 1.3}),
    Plot.axisX({anchor: "bottom", ticks: xMaj, tickSize: 13, tickPadding: 13, tickFormat: d => String(d), label: null}),
    Plot.axisX({anchor: "bottom", ticks: xMin, tickSize: 7, tickFormat: blank, label: null}),
    Plot.axisX({anchor: "top", ticks: xMaj, tickSize: 12, tickFormat: blank, label: null}),
    Plot.axisX({anchor: "top", ticks: xMin, tickSize: 7, tickFormat: blank, label: null}),
    Plot.axisY({anchor: "left", ticks: [-10, -9, -8], tickSize: 13, tickPadding: 13, tickFormat: minus, label: null}),
    Plot.axisY({anchor: "left", ticks: [-9.5, -8.5], tickSize: 7, tickFormat: blank, label: null}),
    Plot.axisY({anchor: "right", ticks: [-10, -9, -8], tickSize: 13, tickFormat: blank, label: null}),
    Plot.axisY({anchor: "right", ticks: [-9.5, -8.5], tickSize: 7, tickFormat: blank, label: null})
  ]
});
addSvg(p4, 744, 1490);

// ---- Texts ----
addText(titleText, 795, 64, {size: 35, bold: false});
addText("nanosecond", 67, 488, {size: 29, rotate: true});
addText("Modified Julian Date", 792, 914, {size: 28});
addText(infoText1, 201, 804, {size: 30, align: "left"});
addText("residuals (ns)", 62, 1178, {size: 29, rotate: true});
addText("Modified Julian Date", 792, 1472, {size: 28});
addText(infoText2, 201, 1373, {size: 25, align: "left"});
addText('<span class="tau">\u03c4</span> = 450s', 203, 1537, {size: 15, align: "left"});
addText("Modified Allan Deviation (10<sup>-15</sup>)", 72, 1736, {size: 30, rotate: true});
addText("Time deviation (10<sup>-10</sup> s)", 758, 1730, {size: 30, rotate: true});
addText('Averaging time, log(<span class="tau">\u03c4</span>) (s)', 439, 2031, {size: 29});
addText('Averaging time, log(<span class="tau">\u03c4</span>) (s)', 1127, 2031, {size: 29});
</script>
</body>
</html>
